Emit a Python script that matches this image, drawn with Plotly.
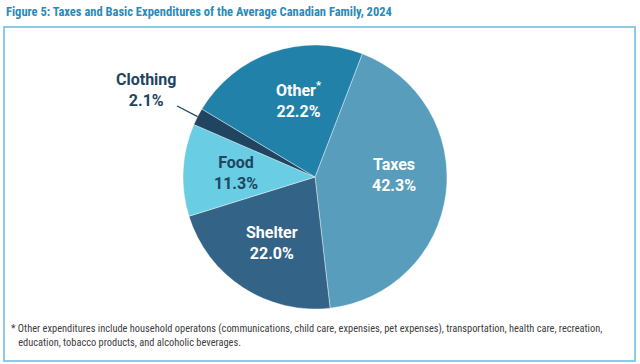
import math
import plotly.graph_objects as go

categories = ["Taxes", "Shelter", "Food", "Clothing", "Other"]
values = [42.3, 22.0, 11.3, 2.1, 22.2]
display_labels = ["Taxes", "Shelter", "Food", "Clothing", "Other<sup>*</sup>"]
colors = ["#589ebc", "#336487", "#69cde4", "#1f4560", "#2281a8"]
text_colors = ["white", "white", "#1f4560", "#1f4560", "white"]

title_text = "Figure 5: Taxes and Basic Expenditures of the Average Canadian Family, 2024"
footnote_text = ("* Other expenditures include household operatons (communications, child care, expensies, pet expenses), "
                 "transportation, health care, recreation,<br>   education, tobacco products, and alcoholic beverages.")

W, H = 640, 364
cx, cy, R = 315, 177, 132
rotation = 21

dom_x = [(cx - R) / W, (cx + R) / W]
dom_y = [(H - cy - R) / H, (H - cy + R) / H]

fig = go.Figure(go.Pie(
    labels=categories,
    values=values,
    textinfo="none",
    sort=False,
    direction="clockwise",
    rotation=rotation,
    marker=dict(colors=colors, line=dict(color="rgba(255,255,255,0.5)", width=0.8)),
    hoverinfo="label+value",
    showlegend=False,
    domain=dict(x=dom_x, y=dom_y),
))

total = sum(values)
label_font = "Roboto"
# angular nudges (deg) and radius fraction for the in-slice labels
angle_nudge = {"Taxes": -9, "Other": 7}
r_frac = 0.6

cum = 0.0
for cat, lab, v, tc in zip(categories, display_labels, values, text_colors):
    mid = rotation + (cum + v / 2) / total * 360
    cum += v
    if cat == "Clothing":
        ang = math.radians(mid)
        hx = cx + R * math.sin(ang)
        hy = cy - R * math.cos(ang)
        fig.add_annotation(
            x=hx / W, y=1 - hy / H, xref="paper", yref="paper",
            text=f"<b>{lab}<br>{v:.1f}%</b>",
            showarrow=True, arrowhead=0, arrowwidth=1.2, arrowcolor="#1f4560",
            ax=-52, ay=-27, standoff=0,
            font=dict(family=label_font, size=16, color=tc),
        )
        continue
    ang = math.radians(mid + angle_nudge.get(cat, 0))
    lx = cx + r_frac * R * math.sin(ang)
    ly = cy - r_frac * R * math.cos(ang)
    fig.add_annotation(
        x=lx / W, y=1 - ly / H, xref="paper", yref="paper",
        xanchor="center", yanchor="middle",
        text=f"<b>{lab}<br>{v:.1f}%</b>", showarrow=False,
        font=dict(family=label_font, size=16, color=tc),
    )

# Border frame
fig.add_shape(type="rect", xref="paper", yref="paper",
              x0=4 / W, x1=635 / W, y0=1 - 361 / H, y1=1 - 27 / H,
              line=dict(color="#8ccbe3", width=2), fillcolor="rgba(0,0,0,0)")

fig.add_annotation(
    x=4 / W, y=1 - 12 / H, xref="paper", yref="paper", xanchor="left", yanchor="middle",
    text=f"<b>{title_text}</b>", showarrow=False,
    font=dict(family="Roboto Condensed, Liberation Sans Narrow, Roboto", size=12.5, color="#2a8bb8"),
)
fig.add_annotation(
    x=9 / W, y=1 - 335 / H, xref="paper", yref="paper", xanchor="left", yanchor="middle",
    text=footnote_text, showarrow=False, align="left",
    font=dict(family="Roboto Condensed, Liberation Sans Narrow, Roboto", size=10.4, color="#404040"),
)

fig.update_layout(
    width=W, height=H,
    margin=dict(l=0, r=0, t=0, b=0),
    paper_bgcolor="white",
    plot_bgcolor="white",
)

fig.write_html("out.html", config={"displayModeBar": False},
               post_script="document.body.style.margin='0px';document.body.style.overflow='hidden';")
